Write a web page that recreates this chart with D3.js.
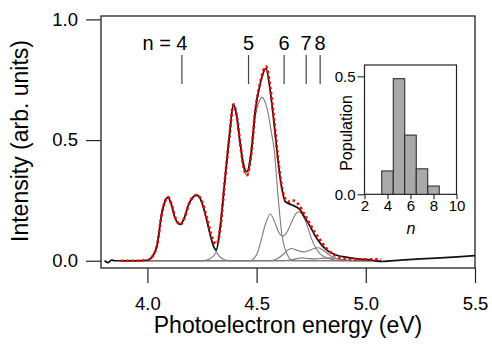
<!DOCTYPE html>
<html>
<head>
<meta charset="utf-8">
<script src="https://cdn.jsdelivr.net/npm/d3@7"></script>
<style>
  body { margin: 0; background: #fff; }
  svg { display: block; font-family: "Liberation Sans", Arial, Helvetica, sans-serif; }
</style>
</head>
<body>
<svg id="chart" width="492" height="344"></svg>
<script>
// photoelectron spectrum, [energy eV, intensity]
const measured = [
  [3.804, 0.000], [3.819, -0.008], [3.836, 0.003], [3.850, 0.000], [3.900, 0.000], [3.950, 0.000],
  [4.000, 0.002], [4.013, 0.008], [4.043, 0.058], [4.066, 0.196], [4.080, 0.245], [4.094, 0.263],
  [4.110, 0.232], [4.127, 0.176], [4.150, 0.151], [4.170, 0.180], [4.188, 0.231], [4.210, 0.265],
  [4.227, 0.272], [4.250, 0.240], [4.270, 0.175], [4.290, 0.100], [4.305, 0.055], [4.315, 0.045],
  [4.333, 0.140], [4.356, 0.348], [4.375, 0.514], [4.394, 0.648], [4.410, 0.595], [4.425, 0.487],
  [4.440, 0.400], [4.456, 0.369], [4.475, 0.450], [4.494, 0.624], [4.517, 0.735], [4.543, 0.797],
  [4.563, 0.700], [4.580, 0.570], [4.593, 0.458], [4.610, 0.330], [4.620, 0.280], [4.631, 0.245],
  [4.660, 0.232], [4.700, 0.210], [4.720, 0.180], [4.746, 0.141], [4.770, 0.100], [4.792, 0.072],
  [4.820, 0.045], [4.860, 0.025], [4.915, 0.014], [4.975, 0.007], [5.030, 0.002], [5.075, -0.003],
  [5.160, 0.003], [5.250, 0.008], [5.342, 0.012], [5.420, 0.016], [5.500, 0.021]
];
// total fit (red dotted)
const fitSum = [
  [3.878, 0.000], [3.950, 0.000], [4.000, 0.002], [4.013, 0.008], [4.043, 0.060], [4.066, 0.196],
  [4.080, 0.245], [4.094, 0.265], [4.110, 0.235], [4.127, 0.180], [4.150, 0.150], [4.170, 0.178],
  [4.188, 0.230], [4.210, 0.265], [4.227, 0.272], [4.250, 0.245], [4.270, 0.185], [4.290, 0.115],
  [4.305, 0.078], [4.318, 0.070], [4.333, 0.130], [4.356, 0.345], [4.375, 0.510], [4.394, 0.648],
  [4.410, 0.595], [4.425, 0.485], [4.440, 0.390], [4.456, 0.355], [4.475, 0.440], [4.494, 0.620],
  [4.517, 0.740], [4.543, 0.805], [4.563, 0.715], [4.580, 0.585], [4.593, 0.465], [4.610, 0.335],
  [4.625, 0.270], [4.645, 0.245], [4.670, 0.249], [4.690, 0.235], [4.720, 0.190], [4.746, 0.150],
  [4.770, 0.112], [4.792, 0.085], [4.820, 0.050], [4.860, 0.022], [4.900, 0.010], [4.950, 0.006],
  [5.000, 0.006], [5.070, 0.006]
];
// fitted components for each cluster size n (gray)
const compN4 = [
  [3.878, 0], [3.990, 0], [4.013, 0.008], [4.043, 0.058], [4.066, 0.196], [4.080, 0.245],
  [4.094, 0.263], [4.110, 0.232], [4.127, 0.176], [4.150, 0.150], [4.170, 0.178], [4.188, 0.230],
  [4.210, 0.264], [4.227, 0.272], [4.250, 0.240], [4.270, 0.172], [4.290, 0.095], [4.305, 0.055],
  [4.315, 0.037], [4.330, 0.018], [4.350, 0.005], [4.370, 0], [5.070, 0]
];
const compN5 = [
  [3.878, 0], [4.255, 0], [4.280, 0.005], [4.300, 0.018], [4.315, 0.037], [4.333, 0.120],
  [4.356, 0.330], [4.375, 0.500], [4.394, 0.638], [4.410, 0.585], [4.425, 0.475], [4.440, 0.385],
  [4.456, 0.355], [4.475, 0.425], [4.494, 0.600], [4.510, 0.655], [4.525, 0.677], [4.540, 0.655],
  [4.555, 0.600], [4.568, 0.530], [4.581, 0.458], [4.595, 0.300], [4.606, 0.190], [4.616, 0.106],
  [4.630, 0.050], [4.645, 0.018], [4.668, 0], [5.070, 0]
];
const compN6 = [
  [3.878, 0], [4.470, 0], [4.490, 0.012], [4.505, 0.035], [4.517, 0.072], [4.540, 0.150],
  [4.563, 0.194], [4.585, 0.155], [4.600, 0.120], [4.621, 0.102], [4.640, 0.120], [4.660, 0.160],
  [4.680, 0.195], [4.693, 0.203], [4.710, 0.190], [4.730, 0.150], [4.750, 0.095], [4.770, 0.055],
  [4.790, 0.030], [4.820, 0.012], [4.860, 0.002], [4.880, 0], [5.070, 0]
];
const compN7 = [
  [3.878, 0], [4.560, 0], [4.590, 0.006], [4.620, 0.025], [4.640, 0.042], [4.658, 0.051],
  [4.680, 0.045], [4.700, 0.039], [4.718, 0.037], [4.740, 0.042], [4.760, 0.050], [4.780, 0.054],
  [4.800, 0.047], [4.830, 0.026], [4.860, 0.010], [4.900, 0.002], [4.930, 0], [5.070, 0]
];
const compN8 = [
  [3.878, 0], [4.620, 0], [4.660, 0.004], [4.690, 0.010], [4.710, 0.012], [4.740, 0.009],
  [4.770, 0.008], [4.800, 0.010], [4.840, 0.012], [4.870, 0.008], [4.920, 0.002], [4.960, 0],
  [5.070, 0]
];
const components = [compN4, compN5, compN6, compN7, compN8];

const sizeLabels = ['4', '5', '6', '7', '8'];
const sizeMarks = [4.158, 4.463, 4.626, 4.727, 4.791];

const xTicks = [4.0, 4.5, 5.0, 5.5];
const yTicks = [0.0, 0.5, 1.0];

// inset histogram
const popN = [4, 5, 6, 7, 8];
const popValues = [0.099, 0.490, 0.251, 0.108, 0.035];
const insetXTicks = [2, 4, 6, 8, 10];
const insetYTicks = [0.0, 0.5];


const svg = d3.select('#chart');

const frame = {left: 101, right: 475, top: 16, bottom: 268};
const x = d3.scaleLinear().domain([3.7875, 5.5]).range([frame.left, frame.right]);
const y = d3.scaleLinear().domain([-0.03, 1.014]).range([frame.bottom, frame.top]);

const line = d3.line()
    .x(d => x(d[0]))
    .y(d => y(d[1]))
    .curve(d3.curveMonotoneX);

// axes
const yAxis = d3.axisLeft(y)
    .tickValues(yTicks)
    .tickFormat(d3.format('.1f'))
    .tickSize(15)
    .tickPadding(8);
svg.append('g')
    .attr('transform', `translate(${frame.left},0)`)
    .call(yAxis)
    .call(g => g.select('.domain').remove())
    .call(g => g.selectAll('line').attr('stroke', '#222').attr('stroke-width', 1.2))
    .call(g => g.selectAll('text').attr('font-size', 18.5).attr('fill', '#000')
      .attr('font-family', null));

const xAxis = d3.axisBottom(x)
    .tickValues(xTicks)
    .tickFormat(d3.format('.1f'))
    .tickSize(15)
    .tickPadding(13.5);
svg.append('g')
    .attr('transform', `translate(0,${frame.bottom})`)
    .call(xAxis)
    .call(g => g.select('.domain').remove())
    .call(g => g.selectAll('line').attr('stroke', '#222').attr('stroke-width', 1.2))
    .call(g => g.selectAll('text').attr('font-size', 18.5).attr('fill', '#000')
      .attr('font-family', null));

// plot frame
svg.append('rect')
    .attr('x', frame.left)
    .attr('y', frame.top)
    .attr('width', frame.right - frame.left)
    .attr('height', frame.bottom - frame.top)
    .attr('fill', 'none')
    .attr('stroke', '#222')
    .attr('stroke-width', 1.3);

// titles
svg.append('text')
    .attr('x', 288)
    .attr('y', 333)
    .attr('text-anchor', 'middle')
    .attr('font-size', 23)
    .text('Photoelectron energy (eV)');
svg.append('text')
    .attr('transform', 'translate(28,141) rotate(-90)')
    .attr('text-anchor', 'middle')
    .attr('font-size', 23)
    .text('Intensity (arb. units)');

// curves
const curves = svg.append('g');
curves.selectAll('.component')
    .data(components)
  .enter().append('path')
    .attr('class', 'component')
    .attr('d', line)
    .attr('fill', 'none')
    .attr('stroke', '#7a7a7a')
    .attr('stroke-width', 1.1);
curves.append('path')
    .datum(measured)
    .attr('d', line)
    .attr('fill', 'none')
    .attr('stroke', '#111')
    .attr('stroke-width', 1.7);
curves.append('path')
    .datum(fitSum)
    .attr('d', line)
    .attr('fill', 'none')
    .attr('stroke', '#ff0000')
    .attr('stroke-width', 2.7)
    .attr('stroke-dasharray', '2.5,2.8');

// cluster size markers
const marks = svg.append('g');
marks.selectAll('line')
    .data(sizeMarks)
  .enter().append('line')
    .attr('x1', d => x(d))
    .attr('x2', d => x(d))
    .attr('y1', 55)
    .attr('y2', 84)
    .attr('stroke', '#444')
    .attr('stroke-width', 1.2);
marks.selectAll('text')
    .data(sizeLabels)
  .enter().append('text')
    .attr('x', (d, i) => x(sizeMarks[i]))
    .attr('y', 50)
    .attr('text-anchor', 'middle')
    .attr('font-size', 20)
    .text(d => d);
marks.append('text')
    .attr('x', x(sizeMarks[0]) - 11)
    .attr('y', 50)
    .attr('text-anchor', 'end')
    .attr('font-size', 20)
    .text('n =');

// inset
const inset = {left: 364.5, right: 456.5, top: 65, bottom: 194.3};
const ix = d3.scaleLinear().domain([2, 10]).range([inset.left, inset.right]);
const iy = d3.scaleLinear().domain([0, 0.548]).range([inset.bottom, inset.top]);

const ins = svg.append('g');
ins.append('rect')
    .attr('x', inset.left)
    .attr('y', inset.top)
    .attr('width', inset.right - inset.left)
    .attr('height', inset.bottom - inset.top)
    .attr('fill', '#fff')
    .attr('stroke', '#222')
    .attr('stroke-width', 1.2);
ins.selectAll('.bar')
    .data(popN)
  .enter().append('rect')
    .attr('class', 'bar')
    .attr('x', d => ix(d - 0.5))
    .attr('width', d => ix(d + 0.5) - ix(d - 0.5))
    .attr('y', (d, i) => iy(popValues[i]))
    .attr('height', (d, i) => iy(0) - iy(popValues[i]))
    .attr('fill', '#a9a9a9')
    .attr('stroke', '#222')
    .attr('stroke-width', 1);

ins.append('g')
    .attr('transform', `translate(${inset.left},0)`)
    .call(d3.axisLeft(iy).tickValues(insetYTicks).tickFormat(d3.format('.1f'))
      .tickSize(7).tickPadding(2))
    .call(g => g.select('.domain').remove())
    .call(g => g.selectAll('line').attr('stroke', '#222').attr('stroke-width', 1.1))
    .call(g => g.selectAll('text').attr('font-size', 15).attr('fill', '#000')
      .attr('font-family', null));
ins.append('g')
    .attr('transform', `translate(0,${inset.bottom})`)
    .call(d3.axisBottom(ix).tickValues(insetXTicks).tickFormat(d3.format('d'))
      .tickSize(5).tickPadding(1.5))
    .call(g => g.select('.domain').remove())
    .call(g => g.selectAll('line').attr('stroke', '#222').attr('stroke-width', 1.1))
    .call(g => g.selectAll('text').attr('font-size', 15).attr('fill', '#000')
      .attr('font-family', null));

ins.append('text')
    .attr('transform', 'translate(351.5,133) rotate(-90)')
    .attr('text-anchor', 'middle')
    .attr('font-size', 16)
    .text('Population');
ins.append('text')
    .attr('x', 411)
    .attr('y', 233.5)
    .attr('text-anchor', 'middle')
    .attr('font-size', 16)
    .attr('font-style', 'italic')
    .text('n');
</script>
</body>
</html>
